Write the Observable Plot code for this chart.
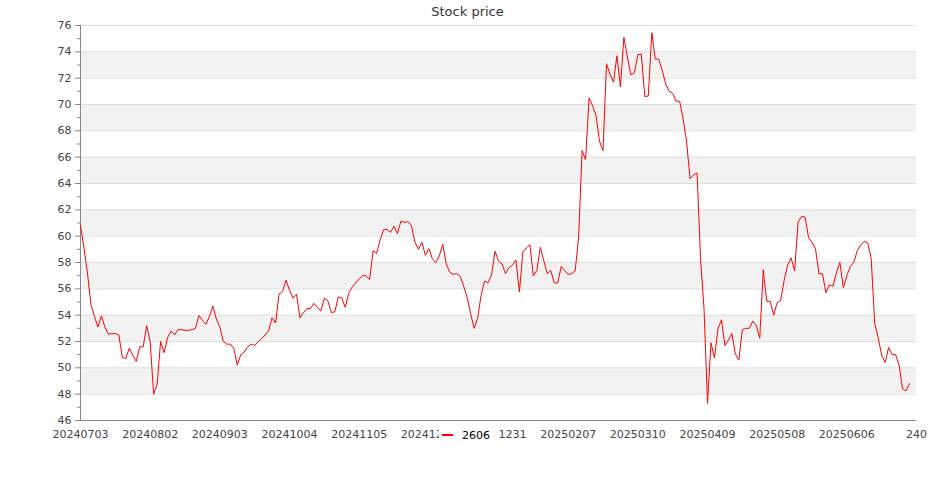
<!DOCTYPE html>
<html>
<head>
<meta charset="utf-8">
<script src="https://cdn.jsdelivr.net/npm/d3@7"></script>
<script src="https://cdn.jsdelivr.net/npm/@observablehq/plot@0.6"></script>
<style>
  body { margin: 0; background: #fff; font-family: "DejaVu Sans", sans-serif; }
  #wrap { position: relative; width: 935px; height: 500px; padding-top: 15px; box-sizing: border-box; }
  #title { position: absolute; top: 0; left: 0; width: 935px; text-align: center; font-size: 13px; line-height: 24px; color: #333; }
  #legend { position: absolute; left: 439px; top: 427px; width: 60px; height: 16px; background: #fff; display: flex; align-items: center; font-size: 11px; color: #000; }
  #legend .sw { display: inline-block; width: 11px; height: 2px; background: #ff0000; margin-left: 3px; }
  #legend .lb { margin-left: 9px; }
  svg g[aria-label^="y-axis"] line, svg g[aria-label^="y-axis"] path { stroke: #888; }
</style>
</head>
<body>
<div id="wrap">
  <div id="title">Stock price</div>
  <div id="chart"></div>
  <div id="legend"><span class="sw"></span><span class="lb">2606</span></div>
</div>
<script>
const seriesName = "2606";
const prices = [
  60.8, 59.1, 57.2, 54.8, 53.9, 53.1, 53.95, 53.1, 52.55, 52.6,
  52.6, 52.5, 50.8, 50.7, 51.5, 50.95, 50.5, 51.6, 51.6, 53.2,
  52.0, 48.0, 48.75, 52.0, 51.15, 52.3, 52.8, 52.5, 52.9, 52.9,
  52.85, 52.85, 52.9, 53.0, 53.97, 53.6, 53.3, 53.9, 54.7, 53.7,
  53.1, 52.0, 51.8, 51.8, 51.5, 50.2, 51.0, 51.2, 51.6, 51.8,
  51.7, 52.0, 52.2, 52.5, 52.8, 53.8, 53.4, 55.6, 55.8, 56.65,
  55.9, 55.3, 55.6, 53.8, 54.2, 54.5, 54.5, 54.9, 54.6, 54.3,
  55.3, 55.1, 54.2, 54.25, 55.4, 55.3, 54.6, 55.65, 56.15, 56.45,
  56.75, 57.0, 57.0, 56.7, 58.9, 58.7, 59.7, 60.5, 60.5, 60.3,
  60.75, 60.2, 61.15, 61.05, 61.1, 60.8, 59.55, 59.0, 59.55, 58.55,
  59.05, 58.3, 58.0, 58.5, 59.4, 57.9, 57.25, 57.1, 57.15, 56.95,
  56.2, 55.35, 54.1, 53.0, 53.75, 55.5, 56.6, 56.45, 57.05, 58.85,
  58.1, 57.9, 57.15, 57.6, 57.8, 58.2, 55.75, 58.8, 59.1, 59.35,
  57.0, 57.4, 59.15, 58.15, 57.15, 57.4, 56.45, 56.45, 57.7, 57.4,
  57.1, 57.15, 57.35, 59.9, 66.5, 65.8, 70.5, 69.9, 69.15, 67.2,
  66.5, 73.1, 72.3, 71.7, 73.7, 71.35, 75.1, 73.6, 72.25, 72.4,
  73.8, 73.8, 70.6, 70.65, 75.45, 73.45, 73.45, 72.6, 71.55, 71.0,
  70.85, 70.25, 70.25, 68.9, 67.15, 64.35, 64.65, 64.8, 58.3, 54.5,
  47.3, 51.9, 50.75, 52.95, 53.65, 51.7, 52.1, 52.6, 51.05, 50.6,
  52.9, 53.0, 53.0, 53.55, 53.2, 52.25, 57.45, 55.05, 55.05, 54.0,
  54.95, 55.1, 56.65, 57.8, 58.35, 57.35, 61.05, 61.5, 61.45, 59.9,
  59.55, 59.05, 57.15, 57.15, 55.7, 56.3, 56.2, 57.2, 58.0, 56.1,
  57.0, 57.7, 58.0, 58.9, 59.35, 59.6, 59.5, 58.3, 53.35, 52.3,
  50.95, 50.4, 51.55, 51.0, 51.0, 50.2, 48.4, 48.25, 48.8
];
const xTickIndex = [0, 20, 40, 60, 80, 100, 120, 140, 160, 180, 200, 220, 240];
const xTickLabels = ["20240703", "20240802", "20240903", "20241004", "20241105", "20241203",
  "20241231", "20250207", "20250310", "20250409", "20250508", "20250606", "240"];
const yTicks = [46, 48, 50, 52, 54, 56, 58, 60, 62, 64, 66, 68, 70, 72, 74, 76];
const yMinorTicks = [47, 49, 51, 53, 55, 57, 59, 61, 63, 65, 67, 69, 71, 73, 75];
const bandStarts = [48, 52, 56, 60, 64, 68, 72];

const data = prices.map((v, i) => ({i, v}));
const xDomain = [0, 240];

const chart = Plot.plot({
  width: 935,
  height: 465,
  marginTop: 10,
  marginBottom: 60,
  marginLeft: 80,
  marginRight: 19,
  style: {fontFamily: "DejaVu Sans", fontSize: "11px", color: "#444", background: "transparent", overflow: "visible"},
  x: {domain: xDomain, ticks: xTickIndex, tickFormat: d => xTickLabels[xTickIndex.indexOf(d)], tickSize: 0, tickPadding: 10, label: null},
  y: {domain: [46, 76], ticks: yTicks, tickSize: 5, tickPadding: 4, label: null},
  marks: [
    Plot.rect(bandStarts, {x1: xDomain[0], x2: xDomain[1], y1: d => d, y2: d => d + 2, fill: "#f2f2f2"}),
    Plot.ruleY(yTicks.filter(v => v > 46), {stroke: "#dedede"}),
    Plot.ruleY(yMinorTicks, {x1: -0.86, x2: 0, stroke: "#888"}),
    Plot.ruleX([0], {stroke: "#888"}),
    Plot.ruleY([46], {stroke: "#888"}),
    Plot.line(data, {x: "i", y: "v", stroke: "#ff0000", strokeWidth: 1})
  ]
});
document.getElementById("chart").appendChild(chart);
</script>
</body>
</html>
